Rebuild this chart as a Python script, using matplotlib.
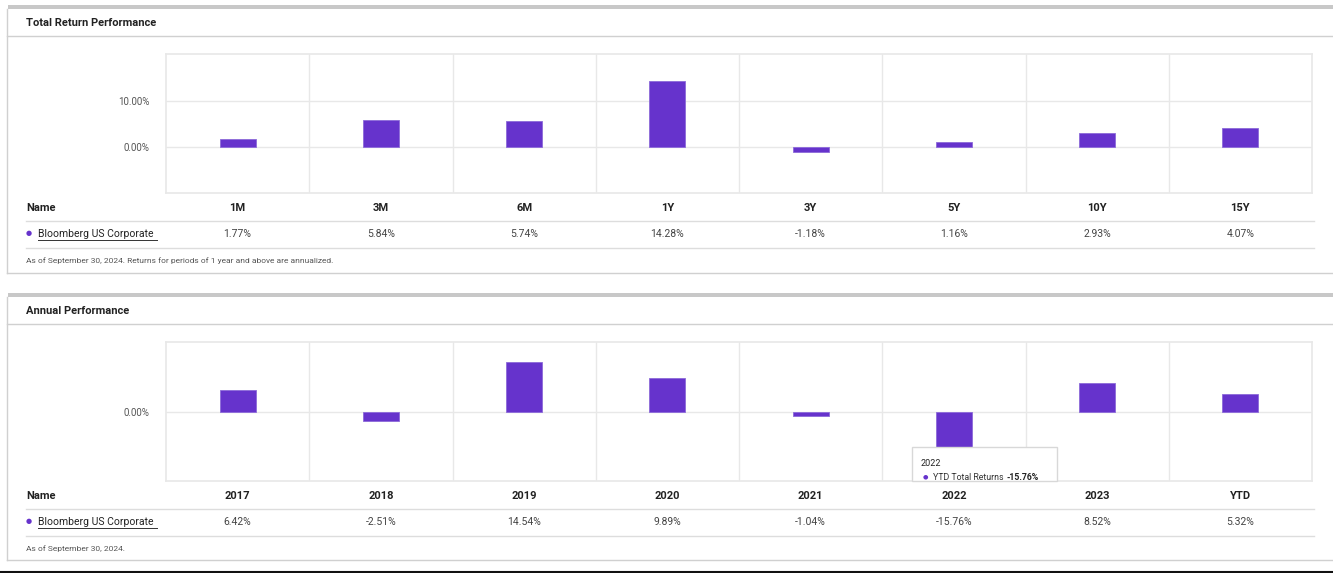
import matplotlib
matplotlib.use('Agg')
import matplotlib.pyplot as plt
from matplotlib import transforms
from matplotlib.lines import Line2D
from matplotlib.patches import Rectangle

# data
periods = ['1M', '3M', '6M', '1Y', '3Y', '5Y', '10Y', '15Y']
period_returns = [1.77, 5.84, 5.74, 14.28, -1.18, 1.16, 2.93, 4.07]
years = ['2017', '2018', '2019', '2020', '2021', '2022', '2023', 'YTD']
annual_returns = [6.42, -2.51, 14.54, 9.89, -1.04, -15.76, 8.52, 5.32]
series_name = 'Bloomberg US Corporate'

W, H = 1333, 573
PURPLE = '#6633cc'
GRID = '#e8e8e8'
plt.rcParams['font.family'] = ['Roboto', 'DejaVu Sans']

fig = plt.figure(figsize=(W / 100, H / 100), dpi=100)
fig.patch.set_facecolor('white')


def fx(x):
    return x / W


def fy(y):
    return 1 - y / H


def hline(x0, x1, y, color='#d0d0d0', lw=1.0, z=1):
    fig.add_artist(Line2D([fx(x0), fx(x1)], [fy(y), fy(y)], color=color, lw=lw, zorder=z))


def vline(x, y0, y1, color='#d0d0d0', lw=1.0):
    fig.add_artist(Line2D([fx(x), fx(x)], [fy(y0), fy(y1)], color=color, lw=lw))


def panel(top, title, cats, vals, ylim, yticks, plot_top, plot_bot, bottom, note):
    # frame
    fig.add_artist(Rectangle((fx(8), fy(top + 4)), 1 - fx(8), 4 / H,
                             transform=fig.transFigure, color='#c8c8c8', lw=0))
    vline(7.5, top + 4, bottom)
    hline(7, W, bottom)
    fig.text(fx(26), fy(top + 17.5), title, fontsize=8, fontweight='bold',
             color='#222222', va='center', ha='left')
    hline(7, W, top + 30.5)

    ax = fig.add_axes([fx(166), fy(plot_bot), fx(1312 - 166), (plot_bot - plot_top) / H])
    x = range(len(cats))
    ax.bar(x, vals, width=0.25, color=PURPLE, edgecolor='#8c6ad9', linewidth=0.6, zorder=3)
    ax.set_xlim(-0.5, len(cats) - 0.5)
    ax.set_ylim(*ylim)
    ax.set_yticks(yticks)
    ax.set_yticklabels(['%.2f%%' % t for t in yticks], fontsize=7, color='#555555')
    ax.set_xticks([i + 0.5 for i in range(len(cats) - 1)])
    ax.set_xticklabels([])
    ax.tick_params(length=0, pad=12)
    ax.grid(True, color=GRID, lw=1.0, zorder=0)
    for s in ax.spines.values():
        s.set_color(GRID)
        s.set_linewidth(1.2)

    tr = transforms.blended_transform_factory(ax.transData, fig.transFigure)
    hdr_y = plot_bot + 15
    val_y = hdr_y + 26
    fig.text(fx(26), fy(hdr_y), 'Name', fontsize=8, fontweight='bold', color='#222222', va='center')
    for i, (c, v) in enumerate(zip(cats, vals)):
        fig.text(i, fy(hdr_y), c, transform=tr, fontsize=8, fontweight='bold',
                 color='#222222', ha='center', va='center')
        fig.text(i, fy(val_y), '%.2f%%' % v, transform=tr, fontsize=7.5,
                 color='#444444', ha='center', va='center')
    hline(26, 1314, hdr_y + 13, color='#dddddd')
    hline(26, 1314, val_y + 14, color='#dddddd')
    fig.text(fx(29), fy(val_y), '\u25cf', fontsize=5, color=PURPLE, ha='center', va='center')
    fig.text(fx(38), fy(val_y), series_name, fontsize=7.5, color='#222222', va='center')
    hline(38, 157, val_y + 6, color='#333333', lw=0.7)
    fig.text(fx(26), fy(val_y + 27), note, fontsize=6, color='#555555', va='center')
    return ax


panel(5, 'Total Return Performance', periods, period_returns, (-10, 20.2), [0, 10],
      54, 193, 273, 'As of September 30, 2024. Returns for periods of 1 year and above are annualized.')
ax2 = panel(293, 'Annual Performance', years, annual_returns, (-20, 20.3), [0],
            342, 481, 560, 'As of September 30, 2024.')

# tooltip on 2022
fig.add_artist(Rectangle((fx(912), fy(481)), fx(1057 - 912), (481 - 447) / H,
                         transform=fig.transFigure, facecolor='white',
                         edgecolor='#d8d8d8', lw=1.0, zorder=5))
fig.text(fx(921), fy(463), years[5], fontsize=6.5, color='#222222', va='center', zorder=6)
fig.text(fx(925), fy(477), '\u25cf', fontsize=4.5, color=PURPLE, ha='center', va='center', zorder=6)
lab = fig.text(fx(933), fy(477), 'YTD Total Returns', fontsize=6.3, color='#333333',
               va='center', zorder=6)
fig.canvas.draw()
ext = lab.get_window_extent()
fig.text(fx(ext.x1 + 3), fy(477), '%.2f%%' % annual_returns[5], fontsize=6.3,
         fontweight='bold', color='#222222', va='center', zorder=6)

hline(0, W, 571.5, color='#111111', lw=1.5)

fig.savefig('out.png', dpi=100, facecolor='white')
